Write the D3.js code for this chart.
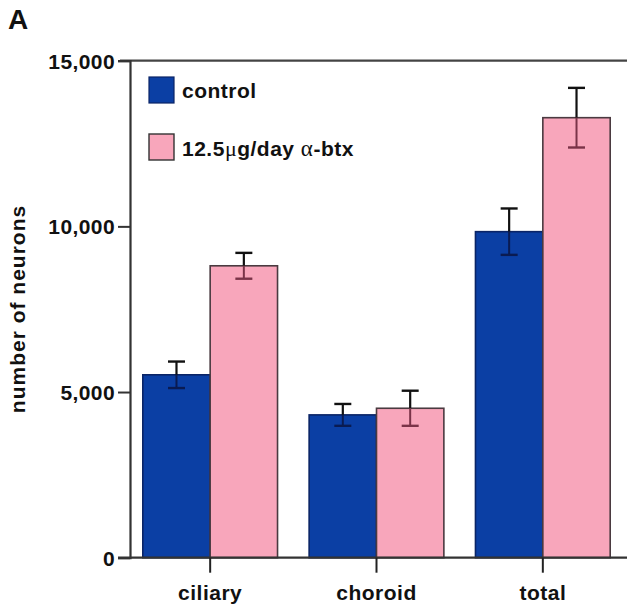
<!DOCTYPE html>
<html>
<head>
<meta charset="utf-8">
<script src="https://cdn.jsdelivr.net/npm/d3@7/dist/d3.min.js"></script>
<style>
  html, body { margin: 0; padding: 0; background: #fff; }
  svg { display: block; }
  text { font-family: "Liberation Sans", Arial, Helvetica, sans-serif; font-weight: bold; fill: #111; }
</style>
</head>
<body>
<svg id="chart" width="627" height="606"></svg>
<script>
// Neuron counts per ganglion region, control vs. alpha-bungarotoxin treated
const categories = ["ciliary", "choroid", "total"];
const seriesNames = ["control", "btx"];
const controlValues = [5520, 4310, 9840];
const controlErrors = [400, 330, 700];
const btxValues = [8810, 4510, 13280];
const btxErrors = [390, 530, 900];
const yTickValues = [0, 5000, 10000, 15000];
const yTickLabels = ["0", "5,000", "10,000", "15,000"];

const colors = { control: "#0b3fa4", btx: "#f8a6bb" };
const edges = { control: "#0a2466", btx: "#4a3a40" };
const lowerMarks = { control: "#0a1b52", btx: "#7a3348" };

const svg = d3.select("#chart");

const plotLeft = 130, plotTop = 60.7, plotBottom = 557.7, plotRight = 627;

const y = d3.scaleLinear().domain([0, 15000]).range([plotBottom, plotTop]);
const x = d3.scaleBand().domain(categories).range([127, 626])
  .paddingInner(0.19).paddingOuter(0.095);
const xs = d3.scaleBand().domain(seriesNames).range([0, x.bandwidth()]);

const rows = categories.map((c, i) => ({
  cat: c,
  control: { v: controlValues[i], e: controlErrors[i] },
  btx: { v: btxValues[i], e: btxErrors[i] }
}));

// Panel letter
svg.append("text").attr("x", 8).attr("y", 29).style("font-size", "28px").text("A");

// Top border of the plot frame
svg.append("line").attr("x1", 120).attr("x2", plotRight).attr("y1", plotTop).attr("y2", plotTop)
  .attr("stroke", "#444").attr("stroke-width", 2.2);

// Bars
const groups = svg.append("g").selectAll("g").data(rows).join("g")
  .attr("transform", d => `translate(${x(d.cat)},0)`);

seriesNames.forEach(s => {
  groups.append("rect")
    .attr("x", xs(s))
    .attr("y", d => y(d[s].v))
    .attr("width", xs.bandwidth())
    .attr("height", d => y(0) - y(d[s].v))
    .attr("fill", colors[s])
    .attr("stroke", edges[s])
    .attr("stroke-width", 1.6);
});

// Error bars: upper whisker in black above the bar, lower whisker inside the bar
const capW = 17;
seriesNames.forEach(s => {
  const cx = xs(s) + xs.bandwidth() / 2;
  groups.append("line")
    .attr("x1", cx).attr("x2", cx)
    .attr("y1", d => y(d[s].v)).attr("y2", d => y(d[s].v + d[s].e))
    .attr("stroke", "#111").attr("stroke-width", 2.2);
  groups.append("line")
    .attr("x1", cx - capW / 2).attr("x2", cx + capW / 2)
    .attr("y1", d => y(d[s].v + d[s].e)).attr("y2", d => y(d[s].v + d[s].e))
    .attr("stroke", "#111").attr("stroke-width", 2.4);
  groups.append("line")
    .attr("x1", cx).attr("x2", cx)
    .attr("y1", d => y(d[s].v)).attr("y2", d => y(d[s].v - d[s].e))
    .attr("stroke", lowerMarks[s]).attr("stroke-width", 2);
  groups.append("line")
    .attr("x1", cx - capW / 2).attr("x2", cx + capW / 2)
    .attr("y1", d => y(d[s].v - d[s].e)).attr("y2", d => y(d[s].v - d[s].e))
    .attr("stroke", lowerMarks[s]).attr("stroke-width", 2.4);
});

// Y axis
const yAxis = d3.axisLeft(y).tickValues(yTickValues)
  .tickFormat((d, i) => yTickLabels[i]).tickSize(12).tickPadding(3);
const yg = svg.append("g").attr("transform", `translate(${plotLeft},0)`).call(yAxis);
yg.select(".domain").attr("stroke", "#333").attr("stroke-width", 2.2);
yg.selectAll(".tick line").attr("stroke", "#333").attr("stroke-width", 2);
yg.selectAll(".tick text").attr("font-family", null).style("font-size", "21px")
  .style("letter-spacing", "0.4px").attr("fill", "#111").attr("dy", "0.36em");

// X axis: baseline runs to the right edge, ticks at category centres
svg.append("line").attr("x1", 118).attr("x2", plotRight).attr("y1", plotBottom).attr("y2", plotBottom)
  .attr("stroke", "#333").attr("stroke-width", 2.2);
const xAxis = d3.axisBottom(x).tickSize(15).tickPadding(8);
const xg = svg.append("g").attr("transform", `translate(0,${plotBottom})`).call(xAxis);
xg.select(".domain").remove();
xg.selectAll(".tick line").attr("stroke", "#222").attr("stroke-width", 2);
xg.selectAll(".tick text").attr("font-family", null).style("font-size", "21px")
  .style("letter-spacing", "0.5px").attr("fill", "#111").attr("dy", "0.9em");

// Y axis title
svg.append("text")
  .attr("transform", "translate(25,309) rotate(-90)")
  .attr("text-anchor", "middle")
  .style("font-size", "21px").style("letter-spacing", "1px")
  .text("number of neurons");

// Legend
const legend = svg.append("g");
legend.append("rect").attr("x", 149).attr("y", 77).attr("width", 25).attr("height", 26)
  .attr("fill", colors.control).attr("stroke", edges.control).attr("stroke-width", 1.2);
legend.append("text").attr("x", 182).attr("y", 98).style("font-size", "21px")
  .style("letter-spacing", "0.5px").text("control");
legend.append("rect").attr("x", 149).attr("y", 134).attr("width", 25).attr("height", 26)
  .attr("fill", colors.btx).attr("stroke", "#333").attr("stroke-width", 1.4);
const lt = legend.append("text").attr("x", 182).attr("y", 156).style("font-size", "21px")
  .style("letter-spacing", "0.5px");
lt.append("tspan").text("12.5");
lt.append("tspan").style("font-family", "'Liberation Serif', 'DejaVu Serif', serif")
  .style("font-weight", "normal").style("font-size", "22px").text("μ");
lt.append("tspan").text("g/day ");
lt.append("tspan").style("font-family", "'Liberation Serif', 'DejaVu Serif', serif")
  .style("font-weight", "normal").style("font-size", "23px").text("α");
lt.append("tspan").text("-btx");
</script>
</body>
</html>
